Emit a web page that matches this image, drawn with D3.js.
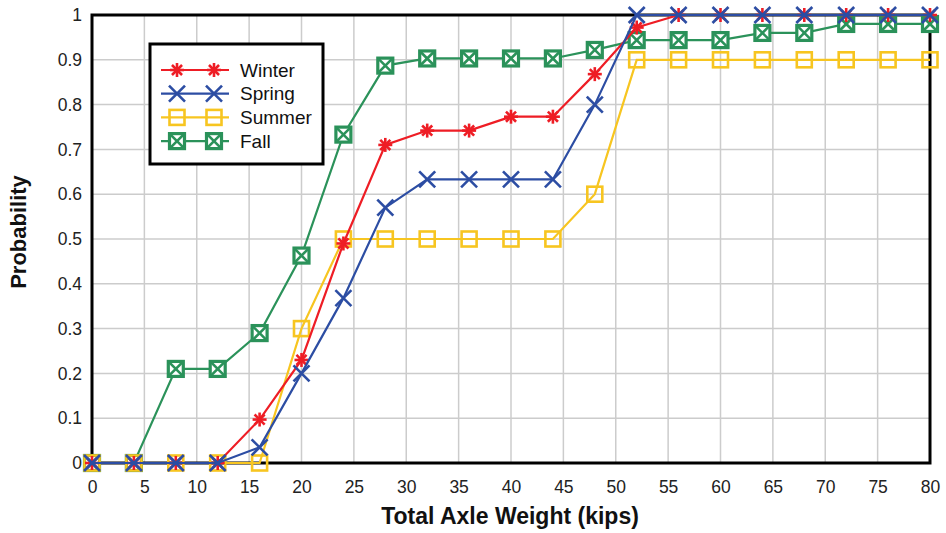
<!DOCTYPE html>
<html><head><meta charset="utf-8">
<script src="https://cdn.jsdelivr.net/npm/d3@7"></script>
<style>body{margin:0;background:#fff}svg{display:block}text{font-family:"Liberation Sans",Arial,sans-serif}</style>
</head><body>
<svg id="c" width="946" height="533"></svg>
<script>
const weights = [0,4,8,12,16,20,24,28,32,36,40,44,48,52,56,60,64,68,72,76,80];
const winter = [0,0,0,0,0.097,0.23,0.49,0.71,0.742,0.742,0.773,0.773,0.868,0.972,1,1,1,1,1,1,1];
const spring = [0,0,0,0,0.035,0.2,0.368,0.57,0.633,0.633,0.633,0.633,0.8,1,1,1,1,1,1,1,1];
const summer = [0,0,0,0,0,0.3,0.5,0.5,0.5,0.5,0.5,0.5,0.6,0.9,0.9,0.9,0.9,0.9,0.9,0.9,0.9];
const fall   = [0,0,0.21,0.21,0.29,0.463,0.733,0.887,0.903,0.903,0.903,0.903,0.922,0.944,0.944,0.944,0.96,0.96,0.98,0.98,0.98];
const xTicks = [0,5,10,15,20,25,30,35,40,45,50,55,60,65,70,75,80];
const yTicks = [0,0.1,0.2,0.3,0.4,0.5,0.6,0.7,0.8,0.9,1];
const seriesNames = ["Winter","Spring","Summer","Fall"];
const colors = {Winter:"#ee1d25", Spring:"#2c4da3", Summer:"#f7c520", Fall:"#2b925a"};
const valuesBy = {Winter:winter, Spring:spring, Summer:summer, Fall:fall};
const drawOrder = ["Fall","Summer","Winter","Spring"];

const svg = d3.select("#c");
const L=92, R=930, T=15, B=463;
const x = d3.scaleLinear().domain([0,80]).range([L,R]);
const y = d3.scaleLinear().domain([0,1]).range([B,T]);

// grid
svg.append("g").selectAll("line").data(xTicks).join("line")
  .attr("x1",d=>x(d)).attr("x2",d=>x(d)).attr("y1",T).attr("y2",B)
  .attr("stroke","#cccccc").attr("stroke-width",1.5);
svg.append("g").selectAll("line").data(yTicks).join("line")
  .attr("x1",L).attr("x2",R).attr("y1",d=>y(d)).attr("y2",d=>y(d))
  .attr("stroke","#cccccc").attr("stroke-width",1.5);

// axes labels via d3 axes
const xa = svg.append("g").attr("transform",`translate(0,${B})`)
  .call(d3.axisBottom(x).tickValues(xTicks).tickFormat(d3.format("d")).tickSize(0).tickPadding(18));
xa.select(".domain").remove();
xa.selectAll("text").attr("font-size",17.5).attr("fill","#222").attr("font-family","Liberation Sans, Arial, sans-serif");
const ya = svg.append("g").attr("transform",`translate(${L},0)`)
  .call(d3.axisLeft(y).tickValues(yTicks).tickFormat(d=>d===0?"0":d===1?"1":d3.format(".1f")(d)).tickSize(0).tickPadding(10));
ya.select(".domain").remove();
ya.selectAll("text").attr("font-size",17.5).attr("fill","#222").attr("font-family","Liberation Sans, Arial, sans-serif");

// frame
svg.append("rect").attr("x",L).attr("y",T).attr("width",R-L).attr("height",B-T)
  .attr("fill","none").attr("stroke","#000").attr("stroke-width",3);

// titles
svg.append("text").attr("x",510).attr("y",524).attr("text-anchor","middle")
  .attr("font-size",23).attr("font-weight","bold").attr("fill","#111").text("Total Axle Weight (kips)");
svg.append("text").attr("transform","translate(26,232) rotate(-90)").attr("text-anchor","middle")
  .attr("font-size",22).attr("font-weight","bold").attr("fill","#111").text("Probability");

function marker(g, name, cx, cy){
  const c = colors[name];
  if(name==="Winter"){
    const s=7;
    const m = g.append("g").attr("transform",`translate(${cx},${cy})`).attr("stroke",c).attr("stroke-width",2.6);
    m.append("line").attr("x1",0).attr("x2",0).attr("y1",-s).attr("y2",s);
    m.append("line").attr("x1",-s).attr("x2",s).attr("y1",0).attr("y2",0);
    m.append("line").attr("x1",-s*0.72).attr("x2",s*0.72).attr("y1",-s*0.72).attr("y2",s*0.72);
    m.append("line").attr("x1",-s*0.72).attr("x2",s*0.72).attr("y1",s*0.72).attr("y2",-s*0.72);
  } else if(name==="Spring"){
    const s=8;
    const m = g.append("g").attr("transform",`translate(${cx},${cy})`).attr("stroke",c).attr("stroke-width",2.6);
    m.append("line").attr("x1",-s).attr("x2",s).attr("y1",-s).attr("y2",s);
    m.append("line").attr("x1",-s).attr("x2",s).attr("y1",s).attr("y2",-s);
  } else if(name==="Summer"){
    const s=7.5;
    g.append("rect").attr("x",cx-s).attr("y",cy-s).attr("width",2*s).attr("height",2*s)
      .attr("fill","none").attr("stroke",c).attr("stroke-width",2.6);
  } else {
    const s=7.5;
    const m = g.append("g").attr("transform",`translate(${cx},${cy})`).attr("stroke",c);
    m.append("rect").attr("x",-s).attr("y",-s).attr("width",2*s).attr("height",2*s)
      .attr("fill","#fff").attr("stroke-width",3.2);
    m.append("line").attr("x1",-s).attr("x2",s).attr("y1",-s).attr("y2",s).attr("stroke-width",2.6);
    m.append("line").attr("x1",-s).attr("x2",s).attr("y1",s).attr("y2",-s).attr("stroke-width",2.6);
  }
}

const line = d3.line().x(d=>x(d[0])).y(d=>y(d[1]));
drawOrder.forEach(name=>{
  const pts = weights.map((w,i)=>[w, valuesBy[name][i]]);
  const g = svg.append("g");
  g.append("path").attr("d",line(pts)).attr("fill","none").attr("stroke",colors[name]).attr("stroke-width",2.2);
  pts.forEach(p=>marker(g,name,x(p[0]),y(p[1])));
});

// legend
const lg = svg.append("g");
lg.append("rect").attr("x",150).attr("y",44).attr("width",173).attr("height",120)
  .attr("fill","#fff").attr("stroke","#000").attr("stroke-width",3);
seriesNames.forEach((name,i)=>{
  const yy = 70 + i*23.7;
  lg.append("line").attr("x1",161).attr("x2",229).attr("y1",yy).attr("y2",yy).attr("stroke",colors[name]).attr("stroke-width",2.2);
  marker(lg,name,177,yy);
  marker(lg,name,214,yy);
  lg.append("text").attr("x",240).attr("y",yy).attr("dy","0.35em").attr("font-size",19).attr("fill","#111").text(name);
});
</script>
</body></html>
